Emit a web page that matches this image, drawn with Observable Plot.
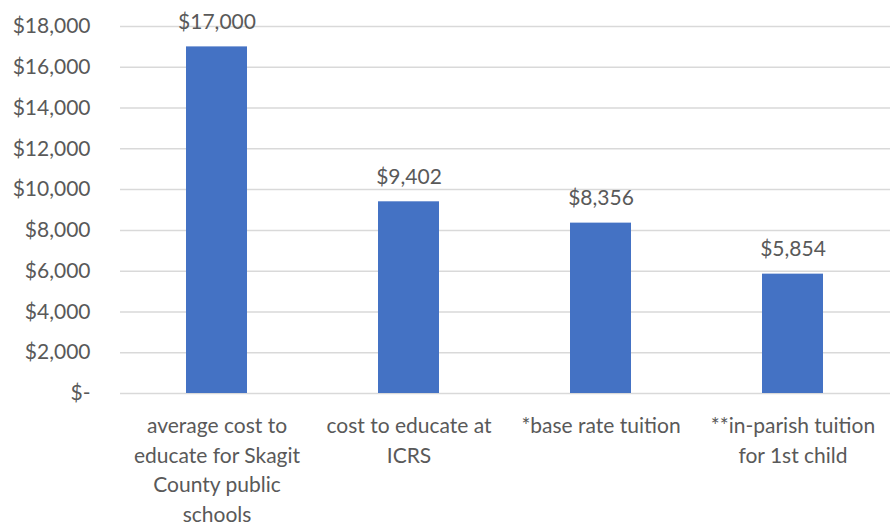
<!DOCTYPE html>
<html>
<head>
<meta charset="utf-8">
<script src="https://cdn.jsdelivr.net/npm/d3@7"></script>
<script src="https://cdn.jsdelivr.net/npm/@observablehq/plot@0.6"></script>
<style>
  html, body { margin: 0; padding: 0; background: #fff; }
</style>
</head>
<body>
<div id="chart"></div>
<script>
const categories = [
  "average cost to educate for Skagit County public schools",
  "cost to educate at ICRS",
  "*base rate tuition",
  "**in-parish tuition for 1st child"
];
const categoryLines = [
  "average cost to\neducate for Skagit\nCounty public\nschools",
  "cost to educate at\nICRS",
  "*base rate tuition",
  "**in-parish tuition\nfor 1st child"
];
const values = [17000, 9402, 8356, 5854];
const yTicks = [0, 2000, 4000, 6000, 8000, 10000, 12000, 14000, 16000, 18000];

const data = categories.map((c, i) => ({cat: c, value: values[i], label: categoryLines[i]}));
const money = d => d === 0 ? "$-" : "$" + d3.format(",")(d);
const textColor = "#595959";

const chart = Plot.plot({
  width: 890,
  height: 526,
  marginLeft: 120,
  marginRight: 0,
  marginTop: 26,
  marginBottom: 133,
  style: {fontFamily: "Lato, 'Open Sans', sans-serif", fontSize: "21px", color: textColor, background: "#fff"},
  x: {domain: categories, paddingInner: 0.68, paddingOuter: 0.34, axis: null},
  y: {domain: [0, 18000], axis: null},
  marks: [
    Plot.gridY(yTicks, {stroke: "#d9d9d9", strokeOpacity: 1, strokeWidth: 1.5}),
    Plot.axisY(yTicks, {tickSize: 0, tickPadding: 30, tickFormat: money, fontSize: 21, fill: textColor, label: null}),
    Plot.barY(data, {x: "cat", y: "value", fill: "#4472C4"}),
    Plot.text(data, {x: "cat", y: "value", text: d => money(d.value), dy: -18, lineAnchor: "bottom", fontSize: 21, fill: textColor}),
    Plot.text(data, {x: "cat", text: "label", frameAnchor: "bottom", lineAnchor: "top", dy: 19, lineHeight: 1.4, fontSize: 21, fill: textColor})
  ]
});
document.getElementById("chart").appendChild(chart);
</script>
</body>
</html>
